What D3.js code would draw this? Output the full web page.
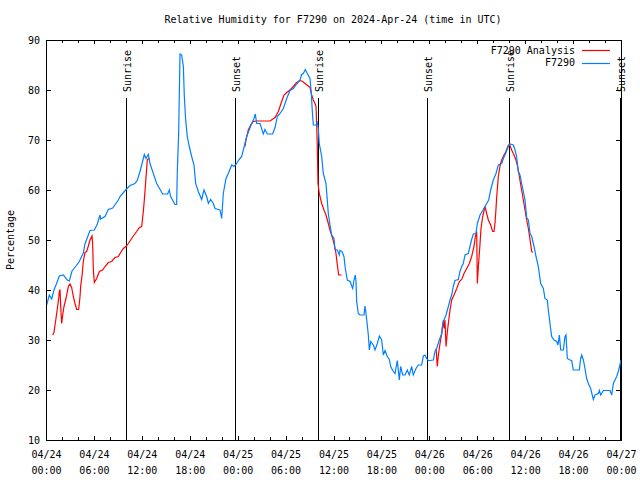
<!DOCTYPE html>
<html>
<head>
<meta charset="utf-8">
<script src="https://cdn.jsdelivr.net/npm/d3@7"></script>
<style>
  html, body { margin: 0; padding: 0; background: #fff; }
  svg { display: block; font-family: "DejaVu Sans Mono", "Liberation Mono", monospace; font-size: 10px; }
</style>
</head>
<body>
<svg id="chart" width="640" height="480"></svg>
<script>
// ---- Data (hours since 2024-04-24 00:00 UTC, relative humidity %) ----
const titleText = "Relative Humidity for F7290 on 2024-Apr-24 (time in UTC)";
const yLabel = "Percentage";
const yTicks = [10, 20, 30, 40, 50, 60, 70, 80, 90];
const seriesNames = ["F7290 Analysis", "F7290"];

const obsHours = [0.08,0.42,0.71,1.0,1.25,1.67,2.17,2.67,2.92,3.26,3.76,4.17,4.67,4.88,5.51,6.05,6.43,6.76,6.84,7.39,7.8,8.35,9.06,9.27,10.02,10.52,11.14,11.44,11.77,11.98,12.31,12.52,12.81,13.02,13.44,13.86,14.61,15.23,15.44,15.61,15.94,16.15,16.36,16.44,16.61,16.78,16.99,17.2,17.32,17.49,17.69,17.94,18.24,18.53,18.74,19.07,19.49,19.78,20.12,20.33,20.62,20.95,21.16,21.79,22.0,22.2,22.54,22.83,23.25,23.54,23.88,24.08,24.29,24.5,24.79,25.13,25.46,25.75,26.05,26.21,26.38,26.8,27.21,27.42,27.71,28.38,28.68,28.96,29.3,29.72,30.14,30.55,30.97,31.39,31.81,32.01,32.22,32.47,32.72,33.06,33.22,33.35,33.47,33.81,33.97,34.1,34.22,34.52,34.72,35.06,35.22,35.35,35.56,35.77,36.06,36.19,36.48,36.73,36.81,37.06,37.31,37.48,37.73,38.07,38.4,38.57,38.73,38.82,38.9,39.11,39.32,39.82,39.94,40.07,40.23,40.36,40.49,40.66,40.99,41.2,41.49,41.74,42.03,42.24,42.45,42.74,42.99,43.16,43.41,43.7,43.99,44.24,44.41,44.66,44.95,45.24,45.49,45.79,45.99,46.33,46.62,47.04,47.25,47.46,47.66,47.87,48.08,48.5,48.71,48.92,49.25,49.55,49.67,49.84,50.09,50.38,50.59,50.8,51.0,51.21,51.63,51.84,52.05,52.25,52.47,52.88,53.09,53.3,53.51,53.84,54.01,54.35,54.76,55.18,55.43,55.68,56.01,56.35,56.64,57.06,57.27,57.6,57.89,58.1,58.52,58.73,58.93,59.14,59.35,59.56,59.77,59.98,60.19,60.4,60.61,60.82,61.11,61.36,61.65,61.94,62.28,62.48,62.77,62.9,63.11,63.32,63.61,63.95,64.11,64.28,64.45,64.78,64.99,65.11,65.28,65.61,65.82,66.03,66.78,66.95,67.08,67.29,67.49,67.7,67.91,68.2,68.54,68.75,69.16,69.29,69.46,69.79,70.63,70.84,71.04,71.25,71.46,71.66,71.87,71.98];
const obsValues = [37,39,38.2,40,41,42.8,43,42,41.8,43.8,44.8,45.7,47.4,49.2,51.9,52,53.2,55,54.2,54.7,56.1,56.4,58,58.7,60.1,60.9,61.3,62,63.7,65,67.1,66.3,67.1,65.3,63.3,61.3,59.2,59.2,60,58.7,57.7,57.1,57.1,63.7,71.3,87.2,87,84.7,78.7,74,70.7,68.7,66.7,65,61.3,59.7,58.1,60,58.7,57.3,58.1,57.3,56.3,56,54.3,59.3,62.3,63.3,65,64.7,65.3,65.9,66.3,66.7,68.5,70.7,72.1,73.3,74.3,75.2,73.3,73.3,71.2,72.1,71.2,71.2,72.5,74.7,75.3,76.3,78.3,79.9,80.3,81.2,82,83.1,83.3,84.1,83.3,82.3,79.3,75.7,73,73,73.5,72.3,69.3,66.7,63.3,61.3,58,55.3,53,51,50.3,48.1,48,47,47.9,47.7,46.7,44.3,42,41.7,40.3,42,43,41.7,37.7,35.3,35,35,36.8,35.3,33,31,28,29.7,29,28,29.3,30.8,30,27,27.9,26.7,26.1,24.7,23.9,23.3,25.9,22,24.7,23,23,24,23,24.7,23,24.3,25,25,26.8,27,26.3,25.9,25.9,26,27.7,28.3,30,31.3,33.2,34,35,36.7,38,39,40.7,41.9,42.1,43.7,44.7,45.3,47,47.3,48.7,50.1,51.2,51.3,53.3,55,56.1,57.3,58,60,62,63.3,65,65.3,66.3,67.5,68.7,69.2,69,68,66.7,63.7,63,61.3,59.7,58,54.5,54,51.3,50.7,48.7,46.7,44.7,41.3,40.3,38.3,38,36,33.3,30.7,30,29.7,29,31,28,28,30.7,31,26.3,26,25.9,24,24,26.3,27,26,24.3,22.3,21.3,20.3,18.1,19,19.3,19.9,19,19.9,19.9,19,21.3,22,22.7,23.7,25,26];

// Analysis series: three separate segments
const anaHours1 = [0.84,1.0,1.13,1.25,1.42,1.59,1.67,1.75,1.84,1.96,2.09,2.25,2.5,2.8,3.0,3.21,3.42,3.63,3.84,4.09,4.26,4.34,4.51,4.67,4.88,5.09,5.3,5.51,5.76,5.84,5.93,6.05,6.34,6.68,7.09,7.39,7.8,8.22,8.64,9.06,9.27,9.68,10.02,10.31,10.6,10.94,11.35,11.69,11.98,12.19,12.31,12.44,12.56,12.69,13.02];
const anaValues1 = [31,31.5,33,34.3,36.3,38.3,39.7,40.1,36.7,33.3,35,36.7,38.3,40.7,41.2,40.5,38.7,37.3,36.1,36.1,38.7,40.8,42.8,45.7,47.5,47.7,48.8,50,50.8,49.3,44,41.5,42.3,43.7,44,44.7,45.5,45.7,46.5,46.7,47.3,48.3,48.7,49.3,50,50.8,51.7,52.5,52.7,55.7,58,60.7,63.3,66.1,66.3];
const anaHours2 = [24.92,25.04,25.33,25.63,25.96,26.38,28.05,28.68,29.09,29.51,29.8,30.14,30.55,30.97,31.39,31.81,32.14,32.43,32.85,33.06,33.27,33.47,33.68,33.81,33.9,33.97,34.06,34.22,34.52,34.81,35.06,35.35,35.56,35.9,36.06,36.31,36.48,36.65,37.02];
const anaValues2 = [68.7,70,72,73,73.7,73.8,73.8,74.5,75.7,77.7,79,79.5,80,80.7,81.5,81.9,81.7,81.3,80.8,80.5,79,78,77.3,76.7,72.7,68.7,61.3,59.3,57.3,56,55,53.3,52,50.3,49.3,47.3,45,43,43];
const anaHours3 = [48.84,49.0,49.13,49.34,49.55,49.76,49.84,49.96,50.09,50.26,50.38,50.59,50.8,51.09,51.43,51.76,52.05,52.34,52.68,53.01,53.3,53.59,53.76,53.93,54.01,54.14,54.35,54.47,54.68,54.97,55.18,55.39,55.68,55.93,56.1,56.22,56.35,56.43,56.64,56.85,57.06,57.35,57.6,57.81,58.02,58.31,58.6,58.85,59.06,59.27,59.48,59.77,59.98,60.19,60.4,60.61,60.82,60.94];
const anaValues3 = [28.3,24.7,27,29.3,31.3,34,32.3,34,28.7,31.7,33.3,36,38,39,40.3,41.7,42.1,43.3,44.3,45.3,46.7,48.7,50.7,51.7,41.3,44.7,49.3,52.3,54.7,56.7,55.3,54,53,51.7,51.7,53.3,56.3,58.5,62.7,64.8,66,67,67.7,68.7,69.2,68,67,66,64.7,62.7,60.7,58,56,54,52.3,50.1,47.7,47.5];

const sunEventHours = [10.0, 23.7, 34.08, 47.73, 58.02, 71.85];
const sunEventLabels = ["Sunrise", "Sunset", "Sunrise", "Sunset", "Sunrise", "Sunset"];

// ---- Layout ----
const W = 640, H = 480;
const m = { left: 46, right: 621, top: 40, bottom: 440 };
const start = Date.UTC(2024, 3, 24, 0, 0);
const HOUR = 3600 * 1000;
const toDate = h => new Date(start + h * HOUR);

const x = d3.scaleUtc().domain([toDate(0), toDate(72)]).range([m.left, m.right]);
const y = d3.scaleLinear().domain([10, 90]).range([m.bottom, m.top]);

const svg = d3.select("#chart");
svg.append("rect").attr("width", W).attr("height", H).attr("fill", "#fff");

const red = "#ff0000", blue = "#0080ff";

// Sunrise/sunset markers
sunEventHours.forEach((h, i) => {
  const xp = Math.round(x(toDate(h))) + 0.5;
  svg.append("line").attr("x1", xp).attr("x2", xp).attr("y1", 98).attr("y2", m.bottom)
    .attr("stroke", "#000").attr("stroke-width", 1).attr("shape-rendering", "crispEdges");
  svg.append("text").attr("transform", `translate(${xp + 1},92) rotate(-90)`)
    .attr("text-anchor", "start").attr("dy", "0.35em").attr("fill", "#000")
    .text(sunEventLabels[i]);
});

// Axes
const majorTicks = d3.range(0, 73, 6).map(toDate);
const minorTicks = d3.range(0, 73, 2).filter(h => h % 6 !== 0).map(toDate);

function styleAxis(g) {
  g.select(".domain").remove();
  g.selectAll("line").attr("stroke", "#000").attr("shape-rendering", "crispEdges");
  g.selectAll("text").attr("fill", "#000").attr("font-family", "DejaVu Sans Mono, monospace").attr("font-size", 10);
}

const xb = svg.append("g").attr("transform", `translate(0,${m.bottom})`)
  .call(d3.axisBottom(x).tickValues(majorTicks).tickSize(-4).tickPadding(11)
    .tickFormat(d3.utcFormat("%m/%d")));
styleAxis(xb);
xb.selectAll(".tick text").each(function(d) {
  const t = d3.select(this);
  t.text(null);
  t.append("tspan").attr("x", 0).text(d3.utcFormat("%m/%d")(d));
  t.append("tspan").attr("x", 0).attr("dy", "1.6em").text(d3.utcFormat("%H:%M")(d));
});
styleAxis(svg.append("g").attr("transform", `translate(0,${m.bottom})`)
  .call(d3.axisBottom(x).tickValues(minorTicks).tickSize(-3).tickFormat("")));
styleAxis(svg.append("g").attr("transform", `translate(0,${m.top})`)
  .call(d3.axisTop(x).tickValues(majorTicks).tickSize(-4).tickFormat("")));
styleAxis(svg.append("g").attr("transform", `translate(0,${m.top})`)
  .call(d3.axisTop(x).tickValues(minorTicks).tickSize(-3).tickFormat("")));

styleAxis(svg.append("g").attr("transform", `translate(${m.left},0)`)
  .call(d3.axisLeft(y).tickValues(yTicks).tickSize(-5).tickPadding(6).tickFormat(d3.format("d"))));
styleAxis(svg.append("g").attr("transform", `translate(${m.right},0)`)
  .call(d3.axisRight(y).tickValues(yTicks).tickSize(-5).tickFormat("")));

// Lines
const line = d3.line().x(d => x(toDate(d[0]))).y(d => y(d[1]));
const zip = (a, b) => a.map((v, i) => [v, b[i]]);

[[anaHours1, anaValues1], [anaHours2, anaValues2], [anaHours3, anaValues3]].forEach(([hs, vs]) => {
  svg.append("path").datum(zip(hs, vs)).attr("d", line)
    .attr("fill", "none").attr("stroke", red).attr("stroke-width", 1.2);
});
svg.append("path").datum(zip(obsHours, obsValues)).attr("d", line)
  .attr("fill", "none").attr("stroke", blue).attr("stroke-width", 1.2);

// Border
svg.append("rect").attr("x", m.left + 0.5).attr("y", m.top + 0.5)
  .attr("width", m.right - m.left).attr("height", m.bottom - m.top)
  .attr("fill", "none").attr("stroke", "#000").attr("stroke-width", 1)
  .attr("shape-rendering", "crispEdges");

// Title
svg.append("text").attr("x", 333).attr("y", 23).attr("text-anchor", "middle").attr("fill", "#000").text(titleText);

// Y label
svg.append("text").attr("transform", "translate(14,240) rotate(-90)").attr("text-anchor", "middle")
  .attr("fill", "#000").text(yLabel);

// Legend
const legendColors = [red, blue];
seriesNames.forEach((name, i) => {
  const ly = 50 + i * 12.5;
  svg.append("text").attr("x", 575).attr("y", ly).attr("dy", "0.35em").attr("text-anchor", "end")
    .attr("fill", "#000").text(name);
  svg.append("line").attr("x1", 582).attr("x2", 610).attr("y1", Math.round(ly) + 0.5).attr("y2", Math.round(ly) + 0.5)
    .attr("stroke", legendColors[i]).attr("stroke-width", 1.2);
});
</script>
</body>
</html>
